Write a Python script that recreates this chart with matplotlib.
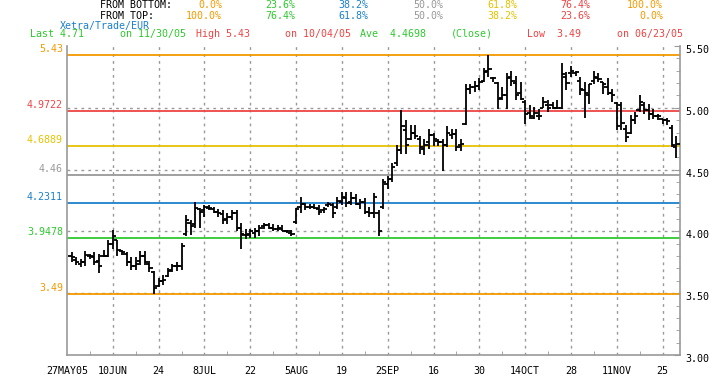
import matplotlib
matplotlib.use("Agg")
import matplotlib.pyplot as plt
import matplotlib.transforms as mtransforms
import numpy as np

# daily OHLC, 30 May 2005 .. 30 Nov 2005 (trading day index 1..133, 27 May = 0)
highs = [3.83, 3.79, 3.78, 3.84, 3.82, 3.83, 3.82, 3.85, 3.93, 4.01,
         3.93, 3.85, 3.83, 3.79, 3.79, 3.84, 3.84, 3.76, 3.68, 3.62,
         3.65, 3.70, 3.74, 3.75, 3.91, 4.13, 4.09, 4.24, 4.19, 4.21,
         4.21, 4.20, 4.18, 4.17, 4.15, 4.17, 4.17, 4.07, 4.02, 4.02,
         4.03, 4.05, 4.07, 4.07, 4.06, 4.05, 4.05, 4.01, 4.01, 4.19,
         4.28, 4.23, 4.22, 4.22, 4.21, 4.20, 4.24, 4.23, 4.28, 4.32,
         4.32, 4.32, 4.30, 4.26, 4.27, 4.20, 4.31, 4.17, 4.42, 4.45,
         4.55, 4.70, 4.98, 4.90, 4.86, 4.86, 4.77, 4.75, 4.83, 4.80,
         4.75, 4.75, 4.85, 4.83, 4.83, 4.75, 5.19, 5.19, 5.22, 5.24,
         5.32, 5.43, 5.25, 5.21, 5.17, 5.28, 5.30, 5.26, 5.21, 5.06,
         5.02, 5.01, 4.99, 5.09, 5.06, 5.05, 5.06, 5.36, 5.29, 5.34,
         5.30, 5.25, 5.21, 5.19, 5.30, 5.28, 5.21, 5.24, 5.15, 5.05,
         5.05, 4.86, 4.94, 4.97, 5.10, 5.05, 5.03, 4.99, 4.95, 4.91,
         4.92, 4.86, 4.77]
lows = [3.75, 3.73, 3.71, 3.72, 3.78, 3.73, 3.66, 3.79, 3.79, 3.86,
        3.80, 3.81, 3.72, 3.69, 3.69, 3.73, 3.73, 3.67, 3.49, 3.55,
        3.57, 3.63, 3.67, 3.68, 3.69, 3.96, 3.97, 4.03, 4.03, 4.12,
        4.17, 4.15, 4.12, 4.06, 4.06, 4.09, 4.00, 3.86, 3.94, 3.95,
        3.95, 3.96, 4.02, 4.02, 4.00, 4.00, 4.00, 3.99, 3.96, 4.06,
        4.15, 4.17, 4.18, 4.18, 4.13, 4.15, 4.20, 4.11, 4.18, 4.21,
        4.20, 4.21, 4.21, 4.18, 4.14, 4.12, 4.11, 3.96, 4.18, 4.34,
        4.40, 4.53, 4.63, 4.63, 4.74, 4.75, 4.63, 4.62, 4.67, 4.69,
        4.69, 4.49, 4.68, 4.75, 4.65, 4.65, 4.86, 5.11, 5.13, 5.14,
        5.21, 5.25, 5.21, 4.99, 5.06, 4.99, 5.18, 5.06, 5.06, 4.87,
        4.91, 4.91, 4.90, 5.00, 4.97, 4.99, 4.99, 4.99, 5.14, 5.25,
        5.26, 5.10, 4.92, 5.03, 5.19, 5.21, 5.11, 5.10, 5.05, 4.82,
        4.82, 4.72, 4.79, 4.87, 4.97, 4.95, 4.90, 4.91, 4.90, 4.87,
        4.86, 4.68, 4.59]
opens = [3.80, 3.77, 3.74, 3.75, 3.80, 3.79, 3.76, 3.80, 3.80, 3.90,
         3.93, 3.84, 3.82, 3.75, 3.72, 3.76, 3.80, 3.74, 3.67, 3.56,
         3.60, 3.64, 3.69, 3.72, 3.72, 3.98, 4.07, 4.06, 4.18, 4.17,
         4.19, 4.18, 4.16, 4.14, 4.10, 4.12, 4.15, 4.03, 3.97, 3.98,
         3.99, 4.00, 4.04, 4.05, 4.03, 4.02, 4.02, 4.00, 3.99, 4.08,
         4.20, 4.22, 4.20, 4.20, 4.18, 4.17, 4.21, 4.21, 4.20, 4.24,
         4.27, 4.24, 4.27, 4.22, 4.24, 4.16, 4.15, 4.15, 4.20, 4.38,
         4.42, 4.55, 4.66, 4.82, 4.75, 4.80, 4.75, 4.67, 4.72, 4.78,
         4.73, 4.72, 4.70, 4.78, 4.79, 4.70, 4.87, 5.15, 5.17, 5.18,
         5.22, 5.30, 5.24, 5.20, 5.08, 5.10, 5.25, 5.20, 5.12, 5.05,
         4.96, 4.92, 4.93, 5.00, 5.02, 5.02, 5.00, 5.00, 5.25, 5.28,
         5.28, 5.22, 5.14, 5.10, 5.22, 5.24, 5.21, 5.17, 5.12, 5.04,
         5.02, 4.83, 4.80, 4.90, 4.98, 5.02, 4.98, 4.95, 4.93, 4.91,
         4.90, 4.84, 4.68]
closes = [3.79, 3.75, 3.75, 3.81, 3.80, 3.75, 3.72, 3.80, 3.90, 3.96,
          3.85, 3.83, 3.75, 3.72, 3.74, 3.80, 3.75, 3.70, 3.54, 3.60,
          3.61, 3.68, 3.72, 3.72, 3.88, 4.09, 4.04, 4.19, 4.16, 4.20,
          4.19, 4.16, 4.15, 4.09, 4.12, 4.15, 4.03, 3.98, 3.97, 4.00,
          4.00, 4.03, 4.05, 4.03, 4.02, 4.03, 4.00, 4.00, 3.98, 4.18,
          4.22, 4.20, 4.20, 4.19, 4.16, 4.18, 4.22, 4.15, 4.25, 4.28,
          4.23, 4.27, 4.22, 4.24, 4.16, 4.15, 4.28, 4.00, 4.40, 4.42,
          4.52, 4.66, 4.85, 4.70, 4.80, 4.77, 4.68, 4.70, 4.78, 4.75,
          4.72, 4.70, 4.80, 4.79, 4.68, 4.71, 5.15, 5.17, 5.18, 5.21,
          5.29, 5.31, 5.24, 5.07, 5.10, 5.24, 5.22, 5.10, 5.07, 4.95,
          4.93, 4.96, 4.93, 5.05, 5.00, 5.00, 5.00, 5.27, 5.20, 5.30,
          5.29, 5.15, 5.12, 5.19, 5.25, 5.23, 5.19, 5.12, 5.10, 4.85,
          4.88, 4.76, 4.90, 4.93, 5.05, 4.98, 4.95, 4.93, 4.93, 4.90,
          4.89, 4.70, 4.71]

# Fibonacci retracement levels (bottom -> top)
fib_levels = [3.49, 3.9478, 4.2311, 4.46, 4.6889, 4.9722, 5.43]
fib_labels = ["3.49", "3.9478", "4.2311", "4.46", "4.6889", "4.9722", "5.43"]
fib_colors = ["#f39a00", "#2ec82e", "#1c80cc", "#999999", "#e6c200", "#ee4444", "#f39a00"]
pct_bottom = ["0.0%", "23.6%", "38.2%", "50.0%", "61.8%", "76.4%", "100.0%"]
pct_top = ["100.0%", "76.4%", "61.8%", "50.0%", "38.2%", "23.6%", "0.0%"]

date_ticks = [0, 10, 20, 30, 40, 50, 60, 70, 80, 90, 100, 110, 120, 130]
date_labels = ["27MAY05", "10JUN", "24", "8JUL", "22", "5AUG", "19", "2SEP",
               "16", "30", "14OCT", "28", "11NOV", "25"]
price_ticks = [3.00, 3.50, 4.00, 4.50, 5.00, 5.50]

W, H = 720, 376
plt.rcParams['font.family'] = ['DejaVu Sans Mono']
FS = 7.2
fig = plt.figure(figsize=(W / 100, H / 100), dpi=100)
ax = fig.add_axes([67 / W, 1 - 355 / H, (680 - 67) / W, (355 - 46) / H])

x = np.arange(1, len(highs) + 1)

# grid
grid_kw = dict(color="#999999", lw=1.0, ls=(0, (2, 3)), zorder=1)
for t in date_ticks[1:]:
    ax.axvline(t, **grid_kw)
for p in [3.50, 4.00, 4.50, 5.00]:
    ax.axhline(p, **grid_kw)

# fibonacci lines
for lev, col, lab in zip(fib_levels, fib_colors, fib_labels):
    ax.axhline(lev, color=col, lw=1.3, zorder=2)
    ax.annotate(lab, xy=(0, lev), xycoords=ax.get_yaxis_transform(),
                xytext=(-4, 6), textcoords="offset pixels",
                ha="right", va="center", color=col, fontsize=FS)

# OHLC bars
ax.vlines(x, lows, highs, color="black", lw=1.3, zorder=3)
ax.hlines(opens, x - 0.7, x, color="black", lw=1.3, zorder=3)
ax.hlines(closes, x, x + 0.7, color="black", lw=1.3, zorder=3)

ax.set_xlim(0, 133.8)
ax.set_ylim(3.0, 5.5)

ax.spines["top"].set_visible(False)
for s in ["left", "bottom", "right"]:
    ax.spines[s].set_color("#999999")
    ax.spines[s].set_linewidth(1.2)

ax.set_xticks(date_ticks)
ax.set_xticklabels(date_labels, fontsize=FS)
ax.set_xticks(np.arange(5, 134, 10), minor=True)
ax.tick_params(axis="x", which="major", length=0, pad=8)
ax.tick_params(axis="x", which="minor", direction="in", length=3, color="#999999")

ax.yaxis.tick_right()
ax.set_yticks(price_ticks)
ax.set_yticklabels(["%.2f" % p for p in price_ticks], fontsize=FS)
ax.set_yticks(np.arange(3.1, 5.45, 0.1), minor=True)
ax.tick_params(axis="y", which="major", direction="in", length=4, color="#999999", pad=4)
ax.tick_params(axis="y", which="minor", direction="in", length=3, color="#999999")
off = mtransforms.ScaledTranslation(0, -3 / 100, fig.dpi_scale_trans)
for lbl in ax.get_yticklabels():
    lbl.set_transform(lbl.get_transform() + off)

# header
def txt(px, py, s, color="black", ha="left"):
    fig.text(px / W, 1 - py / H, s, color=color, ha=ha, va="center", fontsize=FS)

txt(100, 5, "FROM BOTTOM:")
txt(100, 16, "FROM TOP:")
col_right = [222, 295, 368, 443, 517, 590, 663]
for xr, col, pb, pt in zip(col_right, fib_colors, pct_bottom, pct_top):
    txt(xr, 5, pb, col, ha="right")
    txt(xr, 16, pt, col, ha="right")

green, red = "#2ec82e", "#ee4444"
txt(60, 26, "Xetra/Trade/EUR", "#1c80cc")
txt(30, 34, "Last 4.71", green)
txt(120, 34, "on 11/30/05", green)
txt(196, 34, "High 5.43", red)
txt(285, 34, "on 10/04/05", red)
txt(360, 34, "Ave  4.4698", green)
txt(451, 34, "(Close)", green)
txt(527, 34, "Low  3.49", red)
txt(617, 34, "on 06/23/05", red)

fig.savefig("out.png", dpi=100)
